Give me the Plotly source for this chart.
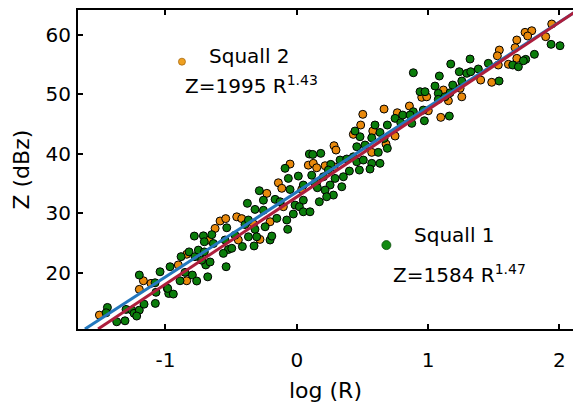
import plotly.graph_objects as go

# Squall 1 (green) : log(R), Z (dBz)
sq1_x = [-1.442, -1.452, -1.371, -1.308, -1.300, -1.257, -1.239, -1.199, -1.219, -1.163, -1.077,
         -1.199, -1.079, -1.041, -1.072, -0.986, -0.975, -0.965,
         -0.983, -0.940, -0.881, -0.820, -0.775, -0.889, -0.795, -0.762, -0.678, -0.851, -0.780,
         -0.711, -0.647, -0.704, -0.635, -0.749, -0.704, -0.693, -0.660, -0.724, -0.538, -0.533,
         -0.394, -0.470, -0.521, -0.495, -0.559, -0.414, -0.546,
         0.096, -0.089, 0.012, -0.064, -0.051, 0.050, 0.114, -0.285, -0.254, -0.376, -0.318,
         -0.254, -0.165, -0.127, -0.013, 0.050, 0.020, 0.050, 0.101, -0.026, -0.076, -0.152,
         -0.069, -0.368, -0.318, -0.368, -0.305, -0.241, -0.203, -0.190, -0.325, 0.139,
         0.482, 0.596, 0.444, 0.634, 0.665, 0.183, 0.122, 0.520, 0.457, 0.571, 0.621, 0.259,
         0.330, 0.381, 0.431, 0.457, 0.507, 0.571, 0.634, 0.558, 0.477, 0.401, 0.241, 0.203,
         0.292, 0.355, 0.254, 0.343, 0.157, 0.216, 0.279, 0.228, 0.172,
         1.173, 0.888, 1.086, 1.053, 1.188, 0.939, 0.977, 1.078, 1.078, 1.168, 1.129, 0.888,
         0.807, 0.863, 0.964, 0.749, 0.690, 0.792, 0.876, 1.162, 0.972, 0.690,
         1.320, 1.238, 1.295, 1.325, 1.383, 1.459, 1.645, 1.688, 1.257, 1.541,
         1.937, 2.005, 1.810, 1.744, 1.726]
sq1_z = [14.15, 13.25, 11.74, 11.90, 13.82, 13.70, 13.15, 13.70, 12.70, 14.70, 14.83,
         19.60, 18.30, 20.15, 16.70, 17.36, 16.50, 21.00,
         17.35, 16.40, 22.70, 23.50, 22.70, 18.64, 19.60, 18.60, 19.30, 20.05, 26.16,
         26.20, 26.40, 25.20, 24.90, 23.80, 23.50, 21.30, 21.80, 22.10, 21.00, 27.56,
         28.10, 26.30, 23.90, 24.10, 23.25, 24.40, 25.50,
         39.97, 37.56, 36.26, 35.87, 34.00, 34.75, 36.40, 33.80, 32.20, 31.67, 30.65,
         30.50, 32.34, 31.94, 31.38, 32.20, 31.10, 30.25, 30.25, 29.87, 28.86, 29.14,
         27.30, 28.86, 27.30, 26.04, 26.04, 27.73, 25.50, 26.16, 24.50, 35.03,
         42.88, 44.85, 43.84, 43.60, 42.60, 40.08, 39.90, 41.48, 41.20, 42.70, 40.25, 38.23,
         38.96, 39.13, 39.50, 38.67, 38.96, 38.40, 38.40, 37.44, 37.27, 37.10, 37.27, 36.15,
         35.87, 36.15, 34.75, 34.46, 34.30, 33.90, 33.06, 32.78, 31.94,
         55.12, 53.65, 53.10, 51.41, 51.58, 50.46, 50.46, 50.18, 49.17, 50.29, 49.60, 47.09,
         46.53, 46.53, 47.37, 45.97, 44.85, 45.24, 45.13, 46.36, 45.57, 40.93,
         55.96, 53.82, 53.55, 53.82, 54.28, 55.23, 54.95, 54.66, 52.26, 52.26,
         58.43, 58.20, 56.75, 55.90, 55.67]

# Squall 2 (orange)
sq2_x = [-1.503, -1.168, -1.199, -1.110,
         -0.902, -0.838, -0.838, -0.668, -0.622, -0.584, -0.541, -0.457, -0.419, -0.445,
         -0.051, 0.088, -0.140, -0.114, 0.038, -0.228, -0.102, -0.203, -0.330, -0.280,
         0.503, 0.665, 0.487, 0.579, 0.431, 0.284, 0.299, 0.571, 0.126, 0.216, 0.152, 0.284, 0.152,
         1.117, 0.952, 0.990, 1.155, 0.858, 0.766, 1.002, 1.097, 0.749, 0.680,
         1.676, 1.543, 1.528, 1.663, 1.676, 1.535, 1.612, 1.244, 1.401, 1.485, 1.257,
         1.942, 1.896, 1.739, 1.790, 1.759]
sq2_z = [12.86, 18.64, 17.19, 18.20,
         21.30, 23.10, 18.64, 25.50, 27.45, 28.70, 29.10, 29.40, 29.10, 25.50,
         38.28, 38.10, 35.13, 34.20, 34.00, 33.35, 31.10, 28.57, 28.20, 25.60,
         46.65, 47.54, 44.85, 43.84, 43.28, 41.37, 40.64, 40.25, 38.40, 38.00, 37.66, 37.83, 35.20,
         50.74, 49.51, 49.60, 48.94, 48.05, 46.92, 47.26, 46.14, 43.00, 41.65,
         59.16, 57.47, 56.50, 57.87, 56.07, 54.95, 55.07, 51.03, 52.42, 52.04, 49.60,
         61.85, 59.72, 60.45, 60.72, 59.83]

# Fitted lines (end points)
fit2_x = [-1.613, 2.12]
fit2_z = [10.52, 63.90]
fit1_x = [-1.513, 2.12]
fit1_z = [10.52, 63.90]

x_ticks = [-1, 0, 1, 2]
x_tick_labels = ["-1", "0", "1", "2"]
y_ticks = [20, 30, 40, 50, 60]

FONT = "DejaVu Sans"
ORANGE = "#E8890C"
GREEN = "#0B7D0B"
BLUE = "#2477BD"
RED = "#AD1E3C"

fig = go.Figure()
fig.add_trace(go.Scatter(x=sq2_x, y=sq2_z, mode="markers",
                         marker=dict(size=8, color=ORANGE, line=dict(color="black", width=1))))
fig.add_trace(go.Scatter(x=sq1_x, y=sq1_z, mode="markers",
                         marker=dict(size=8, color=GREEN, line=dict(color="black", width=1))))
fig.add_trace(go.Scatter(x=fit2_x, y=fit2_z, mode="lines", line=dict(color=BLUE, width=3)))
fig.add_trace(go.Scatter(x=fit1_x, y=fit1_z, mode="lines", line=dict(color=RED, width=3)))

axis_common = dict(showline=True, linecolor="black", linewidth=2, ticks="inside",
                   ticklen=5, tickwidth=2, tickcolor="black", showgrid=False, zeroline=False,
                   tickfont=dict(family=FONT, size=20, color="black"), automargin=False)

fig.update_layout(
    width=573, height=408,
    margin=dict(l=78, r=0, t=10, b=79),
    paper_bgcolor="white", plot_bgcolor="white",
    showlegend=False,
    xaxis=dict(range=[-1.666, 2.104], tickvals=x_ticks, ticktext=x_tick_labels, mirror="ticks",
               ticklabelstandoff=12, **axis_common),
    yaxis=dict(range=[10.52, 64.21], tickvals=y_ticks, ticklabelstandoff=1, **axis_common),
    yaxis2=dict(range=[10.52, 64.21], tickvals=y_ticks, overlaying="y", side="right",
                anchor="x", showline=False, ticks="inside", ticklen=5, tickwidth=2,
                tickcolor="black", showticklabels=False, showgrid=False, zeroline=False),
    font=dict(family=FONT, size=20, color="black"),
)

ann_font = dict(family=FONT, size=20, color="black")
title_font = dict(family=FONT, size=22, color="black")
fig.add_annotation(xref="paper", yref="paper", x=-0.115, y=0.5, text="Z (dBz)", textangle=-90,
                   showarrow=False, font=title_font, xanchor="center", yanchor="middle")
fig.add_annotation(xref="paper", yref="paper", x=0.5, y=-0.194, text="log (R)",
                   showarrow=False, font=title_font, xanchor="center", yanchor="middle")
fig.add_annotation(xref="paper", yref="paper", x=0.2606, y=0.856, text="Squall 2",
                   showarrow=False, font=ann_font, xanchor="left", yanchor="middle")
fig.add_annotation(xref="paper", yref="paper", x=0.212, y=0.765, text="Z=1995 R<sup>1.43</sup>",
                   showarrow=False, font=ann_font, xanchor="left", yanchor="middle")
fig.add_annotation(xref="paper", yref="paper", x=0.674, y=0.295, text="Squall 1",
                   showarrow=False, font=ann_font, xanchor="left", yanchor="middle")
fig.add_annotation(xref="paper", yref="paper", x=0.632, y=0.173, text="Z=1584 R<sup>1.47</sup>",
                   showarrow=False, font=ann_font, xanchor="left", yanchor="middle")

# legend dots
fig.add_shape(type="circle", xref="paper", yref="paper", xsizemode="pixel", ysizemode="pixel",
              xanchor=0.21, yanchor=0.838, x0=-3.5, x1=3.5, y0=-3.5, y1=3.5,
              fillcolor="#EFA020", line=dict(color="#A86A10", width=0.8))
fig.add_shape(type="circle", xref="paper", yref="paper", xsizemode="pixel", ysizemode="pixel",
              xanchor=0.623, yanchor=0.263, x0=-4.5, x1=4.5, y0=-4.5, y1=4.5,
              fillcolor="#138A13", line=dict(color="#0A4A0A", width=0.8))

fig.write_html("out.html")
